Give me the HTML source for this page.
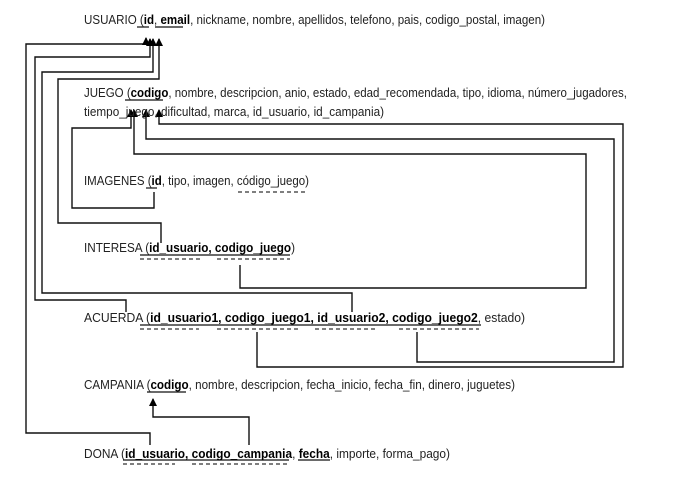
<!DOCTYPE html>
<html><head><meta charset="utf-8"><style>
html,body{margin:0;padding:0;background:#fff;}
svg{display:block;}
text{font-family:"Liberation Sans Narrow","Liberation Sans",sans-serif;font-size:12.5px;fill:#222;}
.b{font-weight:bold;fill:#000;}
</style></head><body>
<svg width="677" height="483" viewBox="0 0 677 483" xmlns="http://www.w3.org/2000/svg">
<defs><marker id="a" markerWidth="9" markerHeight="8" refX="7" refY="4" orient="auto" markerUnits="userSpaceOnUse"><path d="M0,0 L8,4 L0,8 Z" fill="#000"/></marker></defs>
<g fill="none" stroke="#111" stroke-width="1.4">
<path d="M150,445 V433 H26 V44 H146 V38" marker-end="url(#a)"/>
<path d="M126,312 V300 H35 V57 H150 V39" marker-end="url(#a)"/>
<path d="M352,312 V293 H42 V72 H153 V39" marker-end="url(#a)"/>
<path d="M161,243 V223 H58 V79 H159 V39" marker-end="url(#a)"/>
<path d="M154,192 V208 H72 V128 H131 V110" marker-end="url(#a)"/>
<path d="M240,265 V288 H586 V154 H134 V110" marker-end="url(#a)"/>
<path d="M417,332 V362 H614 V139 H146 V110" marker-end="url(#a)"/>
<path d="M257,332 V367 H623 V124 H159 V110" marker-end="url(#a)"/>
<path d="M249,445 V417 H153 V399" marker-end="url(#a)"/>
</g>
<g stroke="#111" stroke-width="1.2">
<line x1="137" y1="27" x2="149" y2="27"/><line x1="155" y1="27" x2="183" y2="27"/>
<line x1="125" y1="100" x2="163" y2="100"/>
<line x1="146" y1="188" x2="157" y2="188"/>
<line x1="140" y1="255" x2="290" y2="255"/>
<line x1="140" y1="325" x2="481" y2="325"/>
<line x1="147" y1="392" x2="186" y2="392"/>
<line x1="123" y1="460" x2="289" y2="460"/><line x1="298" y1="460" x2="330" y2="460"/>
</g>
<g stroke="#333" stroke-width="1.2" stroke-dasharray="4,3">
<line x1="238" y1="192" x2="306" y2="192"/>
<line x1="140" y1="259" x2="200" y2="259"/><line x1="217" y1="259" x2="290" y2="259"/>
<line x1="140" y1="329" x2="199" y2="329"/><line x1="217" y1="329" x2="299" y2="329"/>
<line x1="315" y1="329" x2="378" y2="329"/><line x1="399" y1="329" x2="479" y2="329"/>
<line x1="123" y1="464" x2="175" y2="464"/><line x1="192" y1="464" x2="290" y2="464"/>
</g>
<text x="84" y="24" textLength="461" lengthAdjust="spacingAndGlyphs">USUARIO (<tspan class="b">id</tspan>, <tspan class="b">email</tspan>, nickname, nombre, apellidos, telefono, pais, codigo_postal, imagen)</text>
<text x="84" y="97" textLength="543" lengthAdjust="spacingAndGlyphs">JUEGO (<tspan class="b">codigo</tspan>, nombre, descripcion, anio, estado, edad_recomendada, tipo, idioma, número_jugadores,</text>
<text x="84" y="116" textLength="300" lengthAdjust="spacingAndGlyphs">tiempo_juego, dificultad, marca, id_usuario, id_campania)</text>
<text x="84" y="185" textLength="225" lengthAdjust="spacingAndGlyphs">IMAGENES (<tspan class="b">id</tspan>, tipo, imagen, código_juego)</text>
<text x="84" y="252" textLength="211" lengthAdjust="spacingAndGlyphs">INTERESA (<tspan class="b">id_usuario, codigo_juego</tspan>)</text>
<text x="84" y="322" textLength="441" lengthAdjust="spacingAndGlyphs">ACUERDA (<tspan class="b">id_usuario1, codigo_juego1, id_usuario2, codigo_juego2</tspan>, estado)</text>
<text x="84" y="389" textLength="431" lengthAdjust="spacingAndGlyphs">CAMPANIA (<tspan class="b">codigo</tspan>, nombre, descripcion, fecha_inicio, fecha_fin, dinero, juguetes)</text>
<text x="84" y="458" textLength="366" lengthAdjust="spacingAndGlyphs">DONA (<tspan class="b">id_usuario, codigo_campania</tspan>, <tspan class="b">fecha</tspan>, importe, forma_pago)</text>
</svg>
</body></html>
